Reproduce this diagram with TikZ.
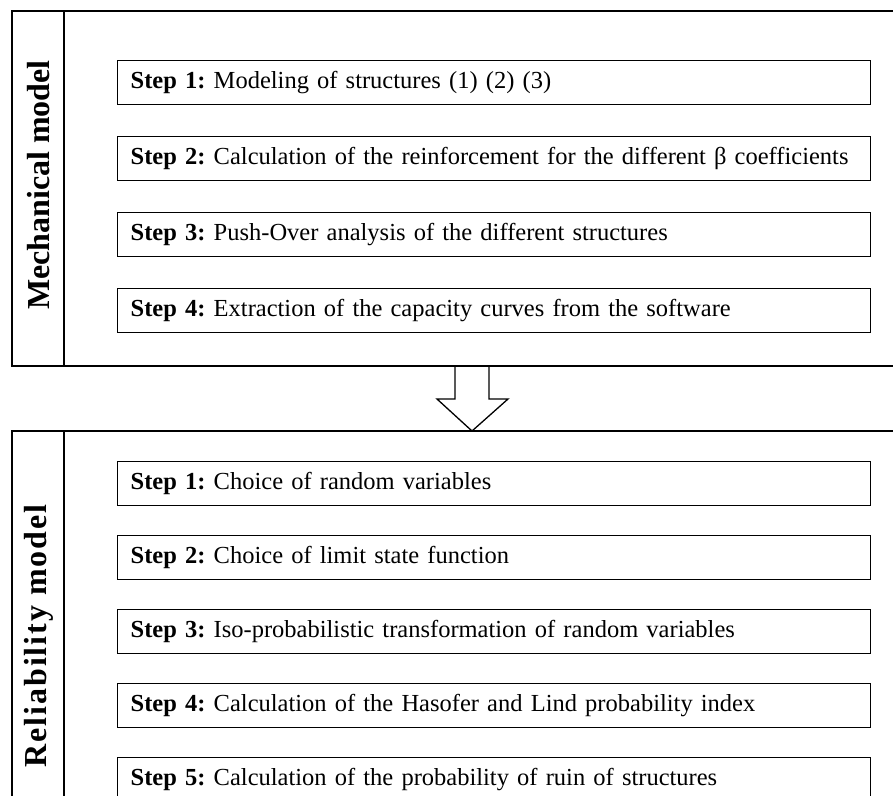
\documentclass[tikz,border=0pt]{standalone}
\usepackage{fontspec}
\setmainfont{Liberation Serif}
\usetikzlibrary{positioning}
\newcommand\stepfont{\fontsize{24.5}{30}\selectfont\frenchspacing\hyphenpenalty=10000\relax}

\begin{document}
\begin{tikzpicture}[x=1pt,y=-1pt,line width=1.5pt,
    stepbox/.style={draw,line width=1.4pt,anchor=north west,minimum height=44pt,text width=727pt,inner xsep=13pt,align=left,font=\stepfont},
    modellabel/.style={rotate=90,font=\fontsize{32}{36}\selectfont\bfseries}]
    \clip (0,0) rectangle (893,795);
    % frames
    \draw (12,11) rectangle (910,366);
    \draw (64,11) -- (64,366);
    \draw (12,431) rectangle (910,910);
    \draw (64,431) -- (64,910);
    \node[modellabel] (mech) at (39,185) {Mechanical model};
    \node[modellabel] (rel) at (39,636) {\addfontfeature{LetterSpace=6}Reliability model};
    % mechanical steps
    \node[stepbox] (m1) at (117,60) {\textbf{Step 1:} Modeling of structures (1) (2) (3)};
    \node[stepbox,below=30.5pt of m1.south west,anchor=north west] (m2) {\textbf{Step 2:} Calculation of the reinforcement for the different β coefficients};
    \node[stepbox,below=30.5pt of m2.south west,anchor=north west] (m3) {\textbf{Step 3:} Push-Over analysis of the different structures};
    \node[stepbox,below=30.5pt of m3.south west,anchor=north west] (m4) {\textbf{Step 4:} Extraction of the capacity curves from the software};
    % reliability steps
    \node[stepbox] (r1) at (117,461) {\textbf{Step 1:} Choice of random variables};
    \node[stepbox,below=28.5pt of r1.south west,anchor=north west] (r2) {\textbf{Step 2:} Choice of limit state function};
    \node[stepbox,below=28.5pt of r2.south west,anchor=north west] (r3) {\textbf{Step 3:} Iso-probabilistic transformation of random variables};
    \node[stepbox,below=28.5pt of r3.south west,anchor=north west] (r4) {\textbf{Step 4:} Calculation of the Hasofer and Lind probability index};
    \node[stepbox,below=28.5pt of r4.south west,anchor=north west] (r5) {\textbf{Step 5:} Calculation of the probability of ruin of structures};
    % block arrow between the two models
    \draw[line width=1.3pt,line join=miter] (455,366) -- (455,399) -- (437,399) -- (472,431) -- (508,399) -- (489,399) -- (489,366);
\end{tikzpicture}
\end{document}
